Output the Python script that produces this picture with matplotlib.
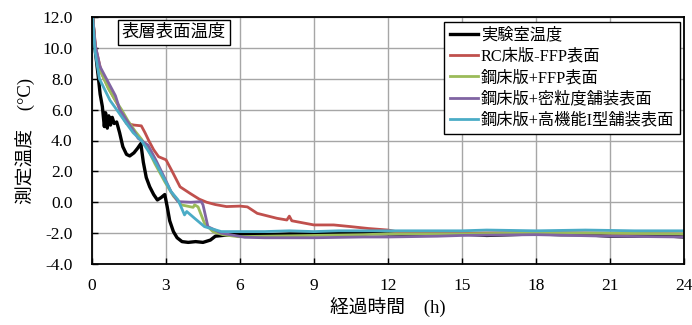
import numpy as np
import matplotlib
matplotlib.use('Agg')
import matplotlib.pyplot as plt
from matplotlib.ticker import FormatStrFormatter

plt.rcParams['font.family'] = ['Liberation Serif', 'Noto Sans CJK JP']

labels = ['実験室温度', 'RC床版-FFP表面', '鋼床版+FFP表面',
          '鋼床版+密粒度舗装表面', '鋼床版+高機能I型舗装表面']
colors = ['#000000', '#C0504D', '#9BBB59', '#8064A2', '#4BACC6']

t_lab = [0, 0.12, 0.25, 0.33, 0.42, 0.5, 0.55, 0.62, 0.68, 0.75, 0.82, 0.9, 1.0,
         1.12, 1.25, 1.4, 1.53, 1.7, 1.85, 1.98, 2.08, 2.2, 2.34, 2.5, 2.65, 2.8,
         2.95, 3.05, 3.15, 3.3, 3.45, 3.65, 3.9, 4.2, 4.5, 4.8, 5.0, 5.3, 5.6, 6,
         7, 8, 9, 10, 11, 12, 13, 14, 15, 16, 17, 18, 19, 20, 21, 22, 23, 24]
v_lab = [12.5, 10.0, 8.2, 7.0, 6.2, 4.9, 5.8, 4.8, 5.6, 5.0, 5.5, 5.1, 5.2,
         4.5, 3.6, 3.1, 3.0, 3.2, 3.5, 3.8, 2.6, 1.6, 1.0, 0.5, 0.15, 0.3,
         0.5, -0.3, -1.2, -1.9, -2.3, -2.55, -2.6, -2.55, -2.6, -2.45, -2.2, -2.15, -2.1, -2.1,
         -2.1, -2.05, -2.05, -2.0, -2.0, -2.05, -2.1, -2.05, -2.05, -2.15, -2.1, -2.05, -2.1, -2.1,
         -2.2, -2.2, -2.15, -2.25]

t_rc = [0, 0.15, 0.4, 0.7, 1.05, 1.25, 1.4, 1.7, 2.0, 2.15, 2.3, 2.5, 2.7, 3.0,
        3.25, 3.57, 3.97, 4.35, 4.65, 5.0, 5.45, 6.0, 6.3, 6.7, 7.5, 7.9, 8.0, 8.1,
        8.6, 9.0, 9.8, 10.5, 11.2, 12, 12.5, 13, 15, 18, 21, 24]
v_rc = [12.5, 10.0, 8.3, 7.3, 6.3, 5.5, 5.1, 5.0, 4.95, 4.5, 4.0, 3.4, 2.95, 2.75,
        2.0, 1.0, 0.58, 0.2, 0.0, -0.15, -0.28, -0.25, -0.3, -0.72, -1.04, -1.15, -0.9, -1.2,
        -1.35, -1.47, -1.47, -1.58, -1.7, -1.8, -1.95, -2.0, -2.0, -1.95, -2.0, -2.05]

t_ffp = [0, 0.13, 0.35, 0.65, 0.95, 1.2, 1.45, 1.75, 2.0, 2.25, 2.55, 2.95, 3.3,
         3.62, 4.1, 4.16, 4.3, 4.56, 4.9, 5.3, 5.92, 7, 9, 11, 12, 15, 18, 21, 24]
v_ffp = [12.5, 10.0, 8.5, 7.4, 6.6, 6.0, 5.3, 4.6, 4.1, 3.5, 2.5, 1.33, 0.4,
         -0.17, -0.33, -0.17, -0.3, -1.36, -1.9, -2.1, -2.23, -2.2, -2.15, -2.1, -2.05, -2.05, -2.0, -2.0, -2.05]

t_dense = [0, 0.13, 0.32, 0.65, 0.95, 1.13, 1.45, 1.7, 1.87, 2.27, 2.6, 2.95, 3.2,
           3.49, 4.0, 4.43, 4.5, 4.7, 5.24, 6.19, 7, 9, 11, 12, 14, 15, 18, 21, 24]
v_dense = [12.5, 10.2, 8.8, 7.8, 6.9, 6.0, 5.2, 4.6, 4.14, 3.7, 2.7, 1.55, 0.7,
           0.04, 0.0, 0.04, -0.17, -1.58, -2.0, -2.27, -2.3, -2.3, -2.25, -2.25, -2.2, -2.15, -2.1, -2.2, -2.25]

t_hp = [0, 0.12, 0.3, 0.73, 1.0, 1.35, 1.67, 2.0, 2.25, 2.6, 2.95, 3.2, 3.49,
        3.75, 3.84, 4.16, 4.56, 5.24, 5.92, 7, 8, 9, 10, 12, 15, 16, 18, 20, 22, 24]
v_hp = [12.5, 9.8, 8.0, 6.6, 6.0, 5.2, 4.5, 4.0, 3.4, 2.5, 1.44, 0.7, 0.15,
        -0.82, -0.6, -1.04, -1.58, -1.9, -1.9, -1.9, -1.85, -1.9, -1.85, -1.85, -1.85, -1.8, -1.85, -1.8, -1.85, -1.85]

series = [(t_lab, v_lab), (t_rc, v_rc), (t_ffp, v_ffp), (t_dense, v_dense), (t_hp, v_hp)]

fig = plt.figure(figsize=(6.92, 3.25), dpi=100)
ax = fig.add_axes([92/692, 1-264/325, 592/692, 247/325])

for (t, v), c, lab, lw in zip(series, colors, labels, [2.4, 2.0, 2.0, 2.0, 2.0]):
    ax.plot(t, v, color=c, lw=lw, label=lab)

ax.set_xlim(0, 24)
ax.set_ylim(-4, 12)
ax.set_xticks(np.arange(0, 25, 3))
ax.set_yticks(np.arange(-4, 13, 2))
ax.yaxis.set_major_formatter(FormatStrFormatter('%.1f'))
ax.grid(color='#a6a6a6', lw=1)
ax.set_axisbelow(True)
ax.tick_params(direction='in', length=4, width=1, labelsize=12.5)
ax.tick_params(axis='x', pad=10)
ax.tick_params(axis='y', pad=14)
for s in ax.spines.values():
    s.set_linewidth(1.3)

ax.set_xlabel('経過時間　(h)', fontsize=13.5, labelpad=3)
ax.set_ylabel('測定温度　(°C)', fontsize=13.5, labelpad=5)

ax.text(0.1385, 0.939, '表層表面温度', transform=ax.transAxes, fontsize=12.5,
        ha='center', va='center',
        bbox=dict(boxstyle='square,pad=0.25', fc='white', ec='black', lw=1))

leg = ax.legend(loc='upper right', bbox_to_anchor=(0.993, 0.98), fontsize=11.7,
                fancybox=False, framealpha=1, edgecolor='black', handlelength=1.75,
                handletextpad=0.15, labelspacing=0.32, borderpad=0.35,
                borderaxespad=0)
leg.get_frame().set_linewidth(1)

fig.savefig('out.png', dpi=100)
